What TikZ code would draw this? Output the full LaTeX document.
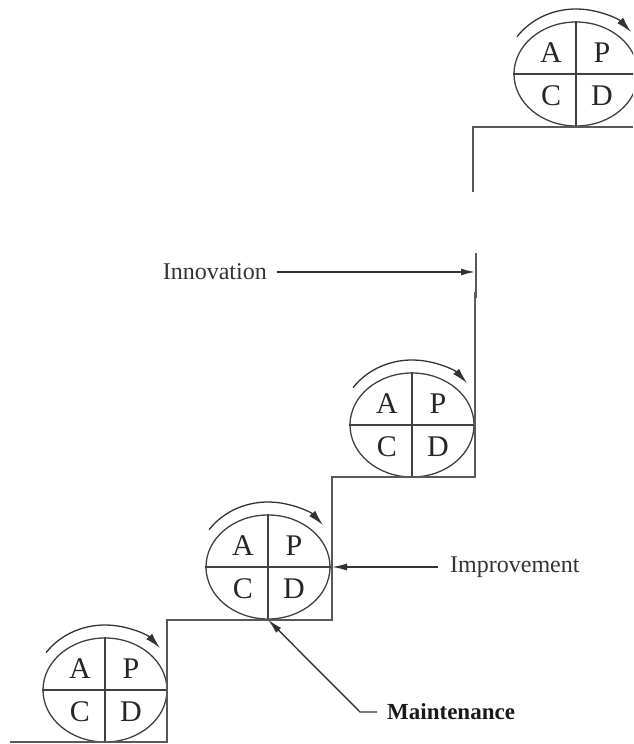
\documentclass[tikz,border=0pt]{standalone}
\usepackage{fontspec}
\setmainfont{Liberation Serif}
\usepackage{tikz}
\usetikzlibrary{positioning,arrows.meta,shapes.geometric}

\begin{document}
\begin{tikzpicture}[
  x=1pt, y=1pt,
  pdca/.style={draw=black!75, line width=1.3pt, ellipse, inner sep=0pt, minimum width=124pt, minimum height=104pt},
  letter/.style={text=black!85, font=\fontsize{30}{33}\selectfont, inner sep=0pt},
  label/.style={text=black!80, font=\fontsize{24}{28}\selectfont, inner sep=0pt},
  stair/.style={draw=black!65, line width=1.6pt},
  turnarrow/.style={draw=black!80, line width=1.3pt, -{Latex[length=16pt, width=8pt]}},
  arrow/.style={draw=black!80, line width=1.4pt, -{Latex[length=15pt, width=7pt]}}]
\useasboundingbox (0,0) rectangle (633,744);
\clip (0,0) rectangle (633,744);
% the four cycles
\node[pdca] (c1) at (105,54) {};
\node[pdca] (c2) at (268,177) {};
\node[pdca] (c3) at (412,319) {};
\node[pdca] (c4) at (576,670) {};
\foreach \c in {c1,c2,c3,c4} {
  \draw[draw=black!75, line width=1.3pt] (\c.north) -- (\c.south);
  \draw[draw=black!75, line width=1.3pt] (\c.west) -- (\c.east);
  \node[letter] (\c-a) at ([shift={(-25,21)}]\c.center) {A};
  \node[letter] (\c-p) at ([shift={(26,21)}]\c.center) {P};
  \node[letter] (\c-c) at ([shift={(-25,-22)}]\c.center) {C};
  \node[letter] (\c-d) at ([shift={(26,-22)}]\c.center) {D};
  \draw[turnarrow] ([shift={(145:72pt and 65pt)}]\c.center) arc[start angle=145, end angle=40, x radius=72pt, y radius=65pt];
}
% stairs
\coordinate (s1) at (167,124);
\coordinate (s2) at (332,267);
\coordinate (tick) at (476,472);
\path[stair] (10,2) -- (167,2) -- (s1) -- (332,124) -- (s2) -- (475,267) -- (475,452);
\path[stair] (tick |- 0,491) -- (tick |- 0,446);
\path[stair] (633,617) -- (473,617) -- (473,552);
% labels
\node[label, anchor=east] (innov) at (267,472) {Innovation};
\node[label, anchor=west] (improve) at (450,177) {Improvement};
\node[label, anchor=west, font=\fontsize{23}{27}\selectfont\bfseries, text=black!90] (maint) at (387,32) {Maintenance};
\coordinate (impr-tip) at (332,177);
\draw[arrow, line width=2.2pt] ([xshift=10pt]innov.east) -- (tick);
\draw[arrow] ([xshift=-12pt]improve.west) -- (impr-tip);
\draw[arrow] ([xshift=-10pt]maint.west) -- ++(-17,0) -- (c2.south);
\end{tikzpicture}
\end{document}
